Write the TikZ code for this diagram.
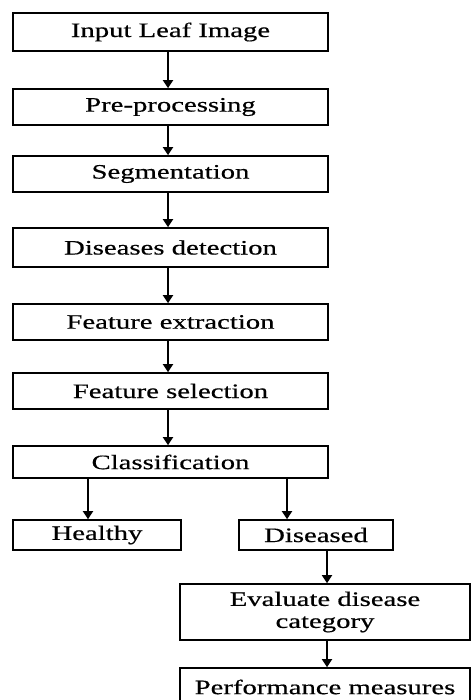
\documentclass[tikz,border=0pt]{standalone}
\usepackage{fontspec}
\setmainfont[FakeStretch=1.4,FakeBold=0.5]{Liberation Serif}
\usetikzlibrary{arrows.meta,positioning}

\begin{document}
\begin{tikzpicture}[
  x=1pt,y=-1pt,
  box/.style={rectangle,draw=black,line width=1.6pt,align=center,inner sep=2pt,font=\fontsize{20.5}{22}\selectfont},
  wide/.style={box,minimum width=315pt},
  arr/.style={-{Triangle[length=8pt,width=10pt]},line width=1.8pt}
]
\useasboundingbox (0,0) rectangle (471,700);
% main chain
\node[wide,minimum height=38pt] (input) at (170.5,32) {Input Leaf Image};
\node[wide,minimum height=36pt] (prep) at (170.5,107) {Pre-processing};
\node[wide,minimum height=36pt] (seg) at (170.5,174) {Segmentation};
\node[wide,minimum height=39pt] (detect) at (170.5,247.5) {Diseases detection};
\node[wide,minimum height=36pt] (extract) at (170.5,322) {Feature extraction};
\node[wide,minimum height=36pt] (select) at (170.5,391) {Feature selection};
\node[wide,minimum height=32pt] (classify) at (170.5,462) {Classification};
% branches
\node[box,minimum width=168pt,minimum height=30pt] (healthy) at (97,535) {Healthy};
\node[box,minimum width=154pt,minimum height=30pt] (diseased) at (316,535) {Diseased};
\node[box,minimum width=290pt,minimum height=56pt] (evaluate) at (325,612) {Evaluate disease\\category};
\node[box,minimum width=290pt,minimum height=38pt] (perf) at (325,687) {Performance measures};
\draw[arr] ([xshift=-2.5pt]input.south) -- ([xshift=-2.5pt]prep.north);
\draw[arr] ([xshift=-2.5pt]prep.south) -- ([xshift=-2.5pt]seg.north);
\draw[arr] ([xshift=-2.5pt]seg.south) -- ([xshift=-2.5pt]detect.north);
\draw[arr] ([xshift=-2.5pt]detect.south) -- ([xshift=-2.5pt]extract.north);
\draw[arr] ([xshift=-2.5pt]extract.south) -- ([xshift=-2.5pt]select.north);
\draw[arr] ([xshift=-2.5pt]select.south) -- ([xshift=-2.5pt]classify.north);
\draw[arr] ([xshift=-82.5pt]classify.south) -- ([xshift=-9pt]healthy.north);
\draw[arr] ([xshift=116.5pt]classify.south) -- ([xshift=-29pt]diseased.north);
\draw[arr] ([xshift=11pt]diseased.south) -- ([xshift=2pt]evaluate.north);
\draw[arr] ([xshift=2pt]evaluate.south) -- ([xshift=2pt]perf.north);
\end{tikzpicture}
\end{document}
